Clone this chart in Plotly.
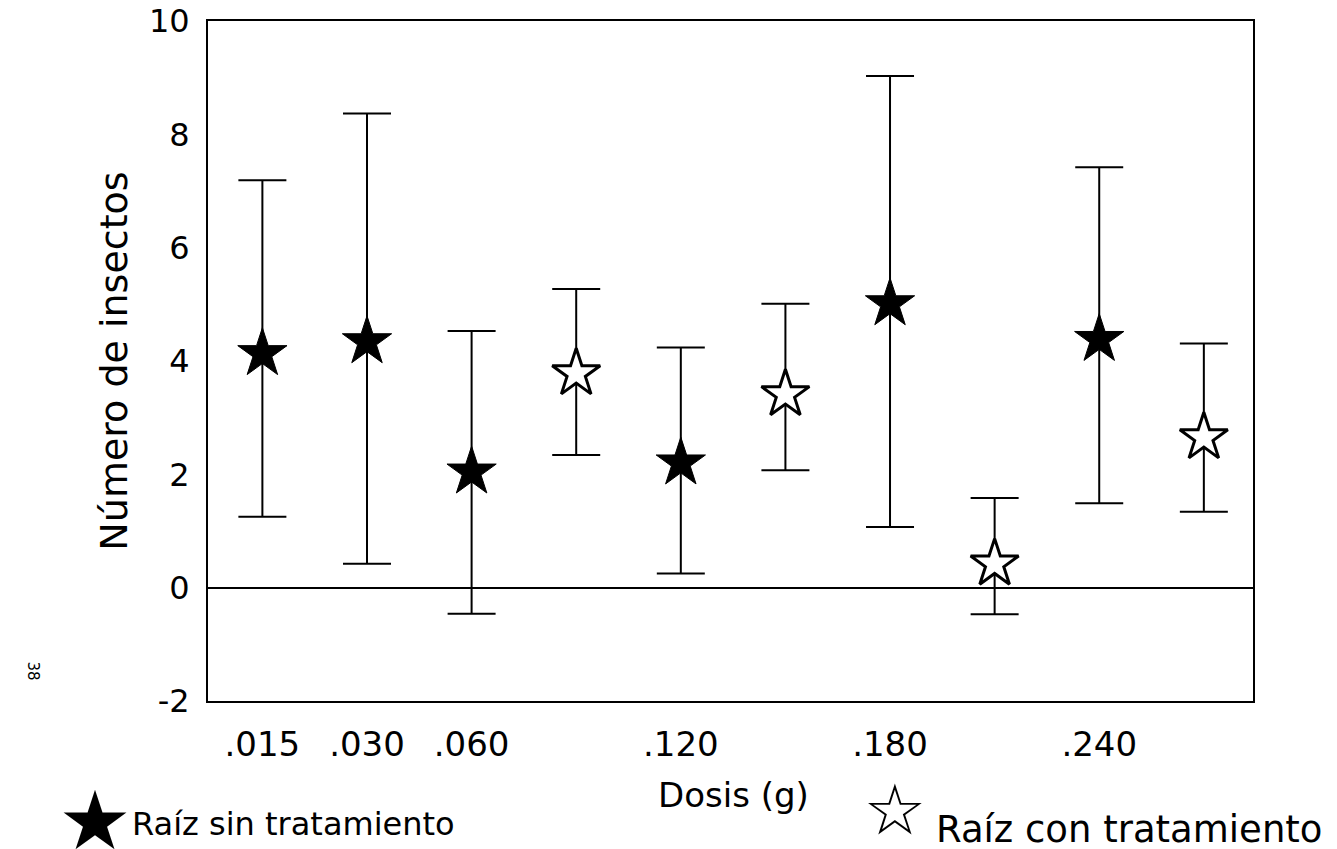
import plotly.graph_objects as go

# ---- data ----
positions = ['.015', '.030', '.060', '.060 t', '.120', '.120 t', '.180', '.180 t', '.240', '.240 t']
tick_labels = ['.015', '.030', '.060', '', '.120', '', '.180', '', '.240', '']

sin_groups = ['.015', '.030', '.060', '.120', '.180', '.240']
sin_mean = [4.13, 4.34, 2.04, 2.20, 5.01, 4.38]
sin_upper = [7.19, 8.37, 4.53, 4.24, 9.03, 7.42]
sin_lower = [1.25, 0.42, -0.46, 0.25, 1.07, 1.49]

con_groups = ['.060 t', '.120 t', '.180 t', '.240 t']
con_mean = [3.78, 3.41, 0.42, 2.65]
con_upper = [5.27, 5.01, 1.58, 4.31]
con_lower = [2.34, 2.07, -0.47, 1.34]

y_ticks = [-2, 0, 2, 4, 6, 8, 10]
y_tick_text = ['-2', '0', '2', '4', '6', '8', '10']

FONT = "DejaVu Sans"
W, H = 1337, 849
ML, MR, MT, MB = 200, 92, 13, 156
OFF = 8  # page body offset

def idx(groups):
    return [positions.index(g) for g in groups]

fig = go.Figure()

fig.add_trace(go.Scatter(
    x=idx(sin_groups), y=sin_mean, mode="markers",
    marker=dict(symbol="star", size=37, color="black", line=dict(color="black", width=1)),
    error_y=dict(type="data", symmetric=False,
                 array=[u - m for u, m in zip(sin_upper, sin_mean)],
                 arrayminus=[m - l for m, l in zip(sin_mean, sin_lower)],
                 color="black", thickness=2, width=24),
    showlegend=False, cliponaxis=False,
))

fig.add_trace(go.Scatter(
    x=idx(con_groups), y=con_mean, mode="markers",
    marker=dict(symbol="star", size=36, color="white", line=dict(color="black", width=3)),
    error_y=dict(type="data", symmetric=False,
                 array=[u - m for u, m in zip(con_upper, con_mean)],
                 arrayminus=[m - l for m, l in zip(con_mean, con_lower)],
                 color="black", thickness=2, width=24),
    showlegend=False, cliponaxis=False,
))

fig.update_layout(
    width=W, height=H,
    margin=dict(l=ML, r=MR, t=MT, b=MB, autoexpand=False),
    paper_bgcolor="white", plot_bgcolor="white",
    font=dict(family=FONT, color="black"),
    xaxis=dict(range=[-0.52, 9.47], tickmode="array",
               tickvals=list(range(len(positions))), ticktext=tick_labels,
               showgrid=False, zeroline=False, ticks="", automargin=False,
               showline=True, mirror=True, linecolor="black", linewidth=2,
               tickfont=dict(size=34, family=FONT), ticklabelstandoff=12),
    yaxis=dict(range=[-2.001, 10.001], tickmode="array", tickvals=y_ticks, ticktext=y_tick_text,
               showgrid=False, ticks="", ticklabeloverflow="allow", automargin=False,
               zeroline=True, zerolinecolor="black", zerolinewidth=2,
               showline=True, mirror=True, linecolor="black", linewidth=2,
               tickfont=dict(size=32, family=FONT), ticklabelstandoff=10,
               title=dict(text="Número de insectos", font=dict(size=38, family=FONT), standoff=10)),
)

pw = W - ML - MR
ph = H - MT - MB

def px_x(x):
    return (x - OFF - ML) / pw

def px_y(y):
    return (H - MB - (y - OFF)) / ph

annots = [
    dict(text="Dosis (g)", x=733, y=795, size=34),
    dict(text="★", x=95, y=820, size=82, box=(84, 84)),
    dict(text="Raíz sin tratamiento", x=130, y=824, size=32, xanchor="left"),
    dict(text="<b>☆</b>", x=895, y=810, size=70, box=(72, 72)),
    dict(text="Raíz con tratamiento", x=934, y=829, size=37, xanchor="left"),
]
for a in annots:
    kw = {}
    if "box" in a:
        kw = dict(width=a["box"][0], height=a["box"][1], valign="middle", align="center")
    fig.add_annotation(
        text=a["text"], xref="paper", yref="paper",
        x=px_x(a["x"]), y=px_y(a["y"]),
        xanchor=a.get("xanchor", "center"), yanchor="middle",
        showarrow=False, font=dict(size=a["size"], family=FONT, color="black"),
        **kw,
    )

fig.add_annotation(
    text="38", xref="paper", yref="paper",
    x=px_x(22), y=px_y(682),
    showarrow=False, textangle=90, font=dict(size=15, family=FONT, color="black"),
)

fig.write_html("out.html")
